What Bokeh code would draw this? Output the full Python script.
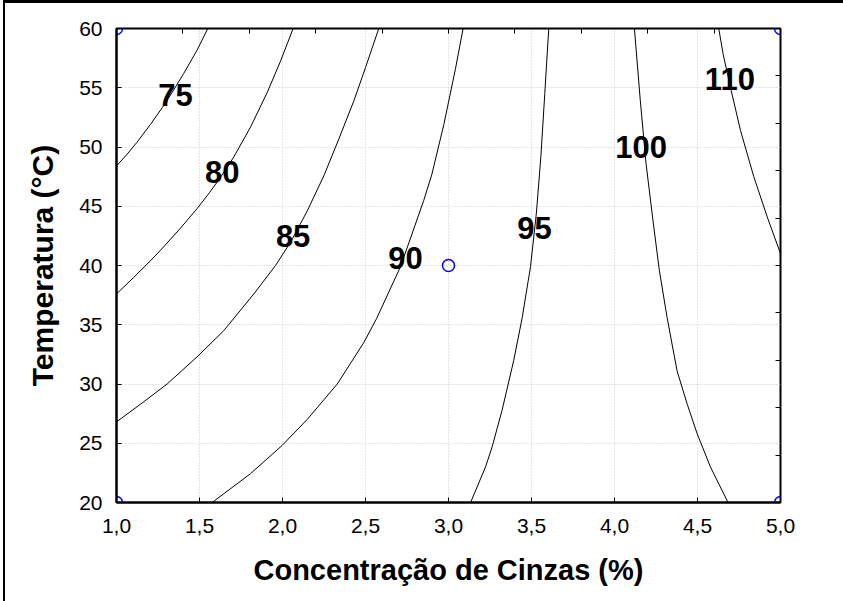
from bokeh.plotting import figure
from bokeh.layouts import column
from bokeh.models import FixedTicker, LinearAxis, ColumnDataSource, Range1d
from bokeh.core.properties import value
from bokeh.embed import file_html
from bokeh.resources import INLINE

# ---- data ----
x_ticks = [1.0, 1.5, 2.0, 2.5, 3.0, 3.5, 4.0, 4.5, 5.0]
x_tick_labels = ["1,0", "1,5", "2,0", "2,5", "3,0", "3,5", "4,0", "4,5", "5,0"]
y_ticks = [20, 25, 30, 35, 40, 45, 50, 55, 60]
top_ticks = [1.4, 1.8, 2.2, 2.6, 3.0, 3.4, 3.8, 4.2, 4.6]
right_ticks = [24, 28, 32, 36, 40, 44, 48, 52, 56]

c75_x = [1.0, 1.064, 1.124, 1.205, 1.275, 1.335, 1.405, 1.486, 1.55]
c75_y = [48.4, 49.39, 50.41, 51.91, 53.31, 54.6, 56.21, 58.19, 60.0]
c80_x = [1.0, 1.104, 1.205, 1.265, 1.386, 1.486, 1.56, 1.627, 1.707, 1.807, 1.907, 1.988, 2.064]
c80_y = [37.6, 39.0, 40.41, 41.28, 43.16, 44.81, 46.14, 47.45, 49.17, 51.67, 54.57, 57.24, 60.0]
c85_x = [1.0, 1.145, 1.305, 1.486, 1.646, 1.827, 1.958, 2.05, 2.149, 2.25, 2.34, 2.43, 2.5, 2.58]
c85_y = [26.8, 28.3, 30.0, 32.3, 34.5, 37.6, 40.0, 42.0, 44.6, 47.6, 50.7, 53.9, 56.7, 60.0]
c90_x = [1.576, 1.807, 1.998, 2.149, 2.33, 2.49, 2.566, 2.711, 2.851, 2.90, 2.972, 3.042, 3.088]
c90_y = [20.0, 22.43, 24.82, 27.01, 30.0, 33.5, 35.5, 39.9, 45.5, 47.7, 51.9, 56.6, 60.0]
c95_x = [3.133, 3.223, 3.263, 3.323, 3.393, 3.444, 3.494, 3.53, 3.557, 3.58, 3.604]
c95_y = [20.0, 23.0, 24.7, 27.8, 32.0, 35.6, 39.9, 44.5, 49.3, 54.5, 60.0]
c100_x = [4.684, 4.578, 4.498, 4.438, 4.377, 4.317, 4.27, 4.23, 4.19, 4.155, 4.12]
c100_y = [20.0, 23.0, 25.8, 28.3, 31.1, 35.6, 39.6, 44.0, 48.6, 54.0, 60.0]
c110_x = [5.0, 4.92, 4.839, 4.759, 4.699, 4.655, 4.628]
c110_y = [41.0, 44.1, 47.5, 51.4, 55.0, 57.8, 60.0]

label_text = ["75", "80", "85", "90", "95", "100", "110"]
label_x = [1.355, 1.637, 2.064, 2.741, 3.518, 4.16, 4.695]
label_y = [54.35, 47.9, 42.5, 40.65, 43.2, 50.0, 55.7]

pts_x = [1.0, 1.0, 5.0, 5.0, 3.0]
pts_y = [20, 60, 20, 60, 40]

# ---- figure ----
p = figure(width=838, height=598, output_backend="svg", toolbar_location=None,
           x_range=Range1d(1.0, 5.0), y_range=Range1d(20, 60),
           min_border_left=111, min_border_right=63, min_border_top=25, min_border_bottom=99)

p.outline_line_color = "black"
p.outline_line_width = 2
p.background_fill_color = "white"
p.border_fill_color = "white"

for g in (p.xgrid, p.ygrid):
    g.grid_line_color = "#c8c8c8"
    g.grid_line_dash = "1 2"
    g.grid_line_width = 1
p.xgrid.ticker = FixedTicker(ticks=x_ticks)
p.ygrid.ticker = FixedTicker(ticks=y_ticks)

xa = p.xaxis[0]
xa.ticker = FixedTicker(ticks=x_ticks)
xa.major_label_overrides = {t: l for t, l in zip(x_ticks, x_tick_labels)}
ya = p.yaxis[0]
ya.ticker = FixedTicker(ticks=y_ticks)

for ax in (xa, ya):
    ax.axis_line_color = "black"
    ax.axis_line_width = 2
    ax.major_tick_in = 5
    ax.major_tick_out = 0
    ax.major_tick_line_width = 1
    ax.minor_tick_line_color = None
    ax.major_label_text_font = "Liberation Sans"
    ax.major_label_text_font_size = "21px"
    ax.major_label_text_color = "black"
    ax.axis_label_text_font = "Liberation Sans"
    ax.axis_label_text_font_style = "bold"
    ax.axis_label_text_color = "black"

xa.major_label_standoff = 16
ya.major_label_standoff = 14
xa.axis_label = "Concentração de Cinzas (%)"
xa.axis_label_text_font_size = "29px"
xa.axis_label_standoff = 18
ya.axis_label = "Temperatura (°C)"
ya.axis_label_text_font_size = "30px"
ya.axis_label_standoff = 17

top = LinearAxis(ticker=FixedTicker(ticks=top_ticks), major_label_text_font_size="0px",
                 major_tick_in=5, major_tick_out=0, axis_line_color=None,
                 minor_tick_line_color=None, major_label_standoff=0)
right = LinearAxis(ticker=FixedTicker(ticks=right_ticks), major_label_text_font_size="0px",
                   major_tick_in=5, major_tick_out=0, axis_line_color=None,
                   minor_tick_line_color=None, major_label_standoff=0)
p.add_layout(top, "above")
p.add_layout(right, "right")

for cx, cy in [(c75_x, c75_y), (c80_x, c80_y), (c85_x, c85_y), (c90_x, c90_y),
               (c95_x, c95_y), (c100_x, c100_y), (c110_x, c110_y)]:
    p.line(cx, cy, line_color="black", line_width=1)

src = ColumnDataSource(dict(x=label_x, y=label_y, t=label_text))
p.text("x", "y", text="t", source=src, text_align="center", text_baseline="middle",
       text_font=value("Liberation Sans"), text_font_style="bold",
       text_font_size="31px", text_color="black")

p.scatter(pts_x, pts_y, size=12, marker="circle", fill_color=None,
          line_color="blue", line_width=1.5)

lay = column(p, styles={"margin-left": "3px", "border-left": "2px solid black",
                        "border-top": "3px solid black"})

open("out.html", "w").write(file_html(lay, INLINE))
